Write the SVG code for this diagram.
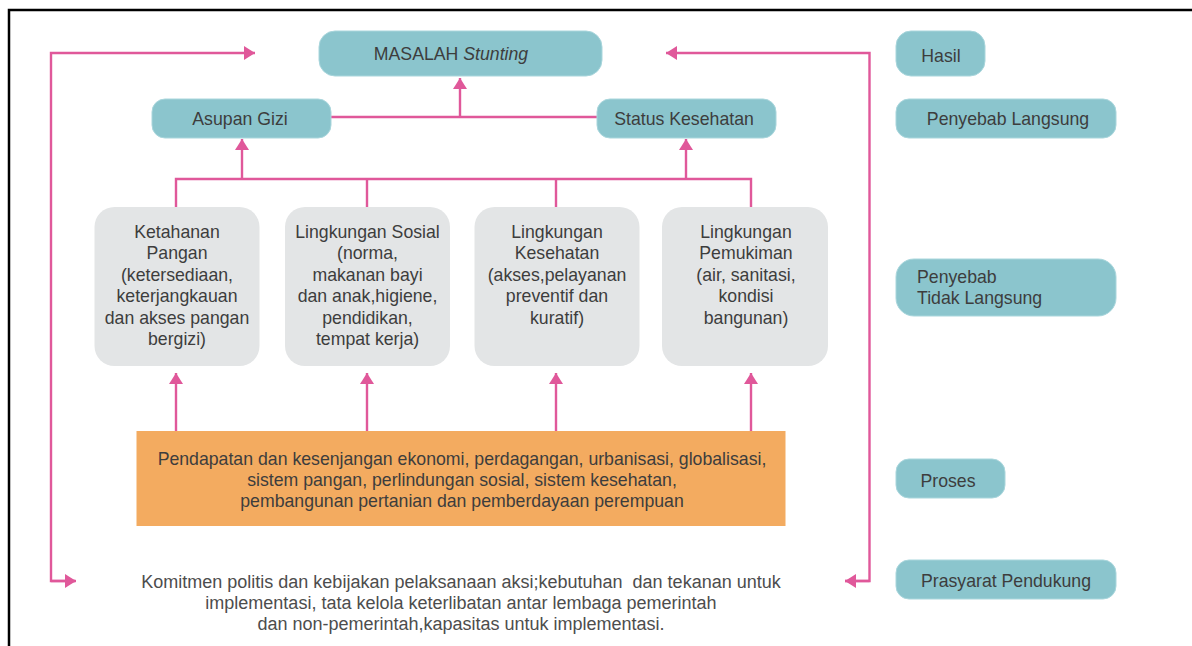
<svg xmlns="http://www.w3.org/2000/svg" width="1192" height="646" viewBox="0 0 1192 646">
  <style>
    .teal { fill: #8BC5CD; stroke: #A9D6DC; stroke-width: 1; }
    .grey { fill: #E3E5E6; }
    .orange { fill: #F3AB60; }
    .lbl { font-family: "Liberation Sans", Arial, sans-serif; font-size: 17.7px; fill: #3d3d3d; }
    .mid { text-anchor: middle; }
    .note { font-family: "Liberation Sans", Arial, sans-serif; font-size: 18px; fill: #4d4d4d; text-anchor: middle; }
    .link { fill: none; stroke: #E0589A; stroke-width: 2.4; }
    .frame { fill: none; stroke: #000; stroke-width: 2.5; }
  </style>
  <defs>
    <marker id="arrow" markerUnits="userSpaceOnUse" markerWidth="11" markerHeight="14" refX="11" refY="7" orient="auto">
      <path d="M0,0 L11,7 L0,14 z" fill="#E0589A"/>
    </marker>
  </defs>

  <rect width="1192" height="646" fill="#fff"/>
  <!-- page frame -->
  <path class="frame" d="M9,646 V10 H1192"/>

  <!-- connectors -->
  <g id="connectors">
    <!-- direct causes to outcome -->
    <path class="link" d="M331,117 H597"/>
    <path class="link" d="M460,117 V78" marker-end="url(#arrow)"/>
    <!-- indirect causes to direct causes -->
    <path class="link" d="M176,207 V179 H751 V207"/>
    <path class="link" d="M367,179 V207"/>
    <path class="link" d="M556,179 V207"/>
    <path class="link" d="M242,179 V139" marker-end="url(#arrow)"/>
    <path class="link" d="M686,179 V139" marker-end="url(#arrow)"/>
    <!-- process to indirect causes -->
    <path class="link" d="M176,431 V373" marker-end="url(#arrow)"/>
    <path class="link" d="M367,431 V373" marker-end="url(#arrow)"/>
    <path class="link" d="M556,431 V373" marker-end="url(#arrow)"/>
    <path class="link" d="M751,431 V373" marker-end="url(#arrow)"/>
    <!-- feedback loops -->
    <path class="link" d="M75,581 H51 V53 H255" marker-end="url(#arrow)"/>
    <path class="link" d="M51,581 H76" marker-end="url(#arrow)"/>
    <path class="link" d="M845,581 H869.5 V53 H666" marker-end="url(#arrow)"/>
    <path class="link" d="M869.5,581 H845" marker-end="url(#arrow)"/>
  </g>

  <g id="masalah-stunting">
    <rect class="teal" x="319" y="31" width="283" height="45" rx="16"/>
    <text class="lbl mid" x="451" y="60">MASALAH <tspan font-style="italic">Stunting</tspan></text>
  </g>

  <g id="asupan-gizi">
    <rect class="teal" x="152" y="99" width="179" height="39" rx="13"/>
    <text class="lbl mid" x="240" y="125">Asupan Gizi</text>
  </g>

  <g id="status-kesehatan">
    <rect class="teal" x="597" y="99" width="179" height="39" rx="13"/>
    <text class="lbl mid" x="684" y="125">Status Kesehatan</text>
  </g>

  <g id="ketahanan-pangan">
    <rect class="grey" x="94.5" y="207" width="165" height="159" rx="20"/>
    <text class="lbl mid" x="177" y="237.5">Ketahanan<tspan x="177" dy="21.5">Pangan</tspan><tspan x="177" dy="21.5">(ketersediaan,</tspan><tspan x="177" dy="21.5">keterjangkauan</tspan><tspan x="177" dy="21.5">dan akses pangan</tspan><tspan x="177" dy="21.5">bergizi)</tspan></text>
  </g>

  <g id="lingkungan-sosial">
    <rect class="grey" x="285" y="207" width="165" height="159" rx="20"/>
    <text class="lbl mid" x="367.5" y="237.5">Lingkungan Sosial<tspan x="367.5" dy="21.5">(norma,</tspan><tspan x="367.5" dy="21.5">makanan bayi</tspan><tspan x="367.5" dy="21.5">dan anak,higiene,</tspan><tspan x="367.5" dy="21.5">pendidikan,</tspan><tspan x="367.5" dy="21.5">tempat kerja)</tspan></text>
  </g>

  <g id="lingkungan-kesehatan">
    <rect class="grey" x="474.5" y="207" width="165" height="159" rx="20"/>
    <text class="lbl mid" x="557" y="237.5">Lingkungan<tspan x="557" dy="21.5">Kesehatan</tspan><tspan x="557" dy="21.5">(akses,pelayanan</tspan><tspan x="557" dy="21.5">preventif dan</tspan><tspan x="557" dy="21.5">kuratif)</tspan></text>
  </g>

  <g id="lingkungan-pemukiman">
    <rect class="grey" x="662" y="207" width="166" height="159" rx="20"/>
    <text class="lbl mid" x="746" y="237.5">Lingkungan<tspan x="746" dy="21.5">Pemukiman</tspan><tspan x="746" dy="21.5">(air, sanitasi,</tspan><tspan x="746" dy="21.5">kondisi</tspan><tspan x="746" dy="21.5">bangunan)</tspan></text>
  </g>

  <g id="proses-dasar">
    <rect class="orange" x="136.5" y="431" width="649" height="95"/>
    <text class="lbl mid" x="462" y="465">Pendapatan dan kesenjangan ekonomi, perdagangan, urbanisasi, globalisasi,<tspan x="462" dy="20.8">sistem pangan, perlindungan sosial, sistem kesehatan,</tspan><tspan x="462" dy="20.8">pembangunan pertanian dan pemberdayaan perempuan</tspan></text>
  </g>

  <g id="prasyarat">
    <text class="note" x="461" y="588">Komitmen politis dan kebijakan pelaksanaan aksi;kebutuhan&#160; dan tekanan untuk<tspan x="461" dy="21">implementasi, tata kelola keterlibatan antar lembaga pemerintah</tspan><tspan x="461" dy="21">dan non-pemerintah,kapasitas untuk implementasi.</tspan></text>
  </g>

  <!-- legend column -->
  <g id="legend-hasil">
    <rect class="teal" x="896" y="31" width="89" height="45" rx="15"/>
    <text class="lbl mid" x="941" y="62">Hasil</text>
  </g>
  <g id="legend-penyebab-langsung">
    <rect class="teal" x="896" y="99" width="220" height="39" rx="13"/>
    <text class="lbl mid" x="1008" y="125">Penyebab Langsung</text>
  </g>
  <g id="legend-penyebab-tidak-langsung">
    <rect class="teal" x="896" y="259" width="220" height="57" rx="18"/>
    <text class="lbl" x="917" y="283">Penyebab<tspan x="917" dy="21">Tidak Langsung</tspan></text>
  </g>
  <g id="legend-proses">
    <rect class="teal" x="896" y="459" width="109" height="39" rx="13"/>
    <text class="lbl mid" x="948" y="487">Proses</text>
  </g>
  <g id="legend-prasyarat">
    <rect class="teal" x="896" y="560" width="220" height="39" rx="13"/>
    <text class="lbl mid" x="1006" y="587">Prasyarat Pendukung</text>
  </g>
</svg>
